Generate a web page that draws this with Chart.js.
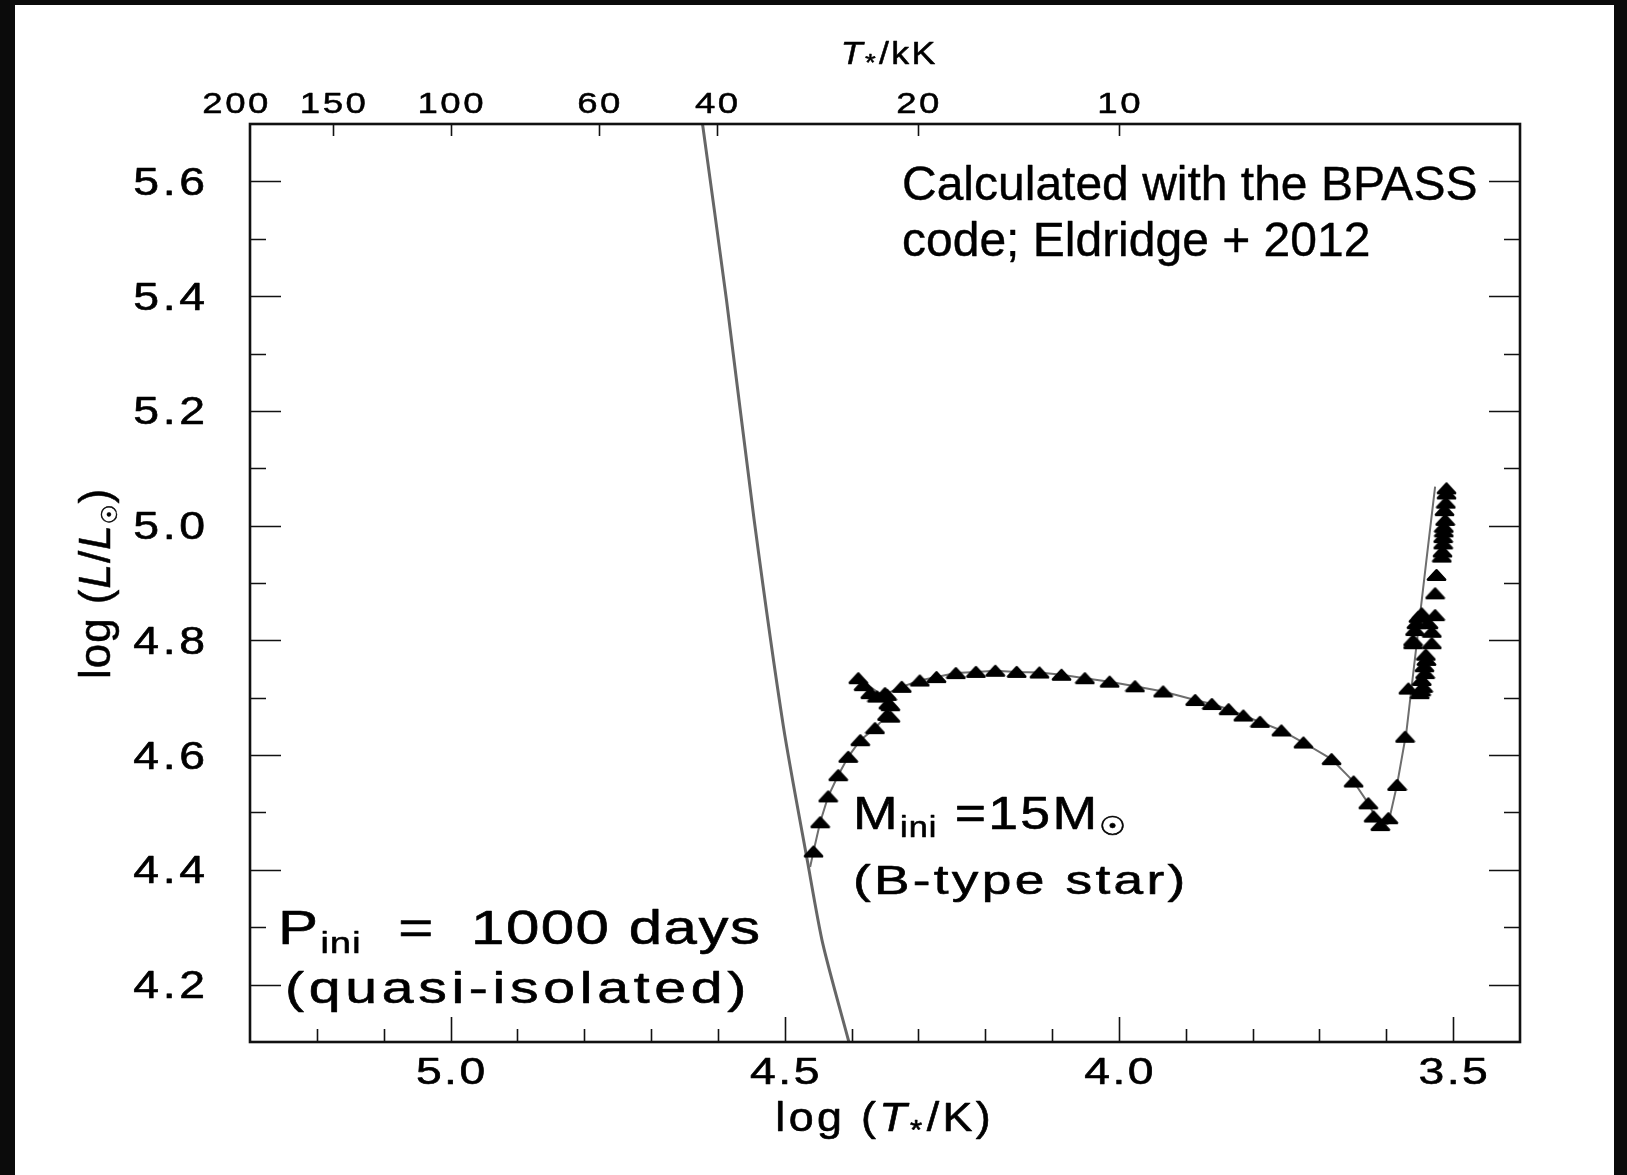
<!DOCTYPE html>
<html>
<head>
<meta charset="utf-8">
<script src="https://cdn.jsdelivr.net/npm/chart.js@4.4.1/dist/chart.umd.min.js"></script>
<style>
  html, body { margin: 0; padding: 0; background: #0b0b0b; overflow: hidden; }
  canvas { display: block; }
</style>
</head>
<body>
<canvas id="hrd" width="1627" height="1175"></canvas>
<script>
// ZAMS-like grey line (log T, log L)
const zamsLogT = [4.623, 4.587, 4.546, 4.502, 4.466, 4.443, 4.404];
const zamsLogL = [5.700, 5.392, 5.012, 4.650, 4.415, 4.271, 4.100];

// grey evolutionary track line
const trackLogT = [4.462, 4.457, 4.447, 4.435, 4.420, 4.405, 4.387, 4.365, 4.347, 4.343, 4.355, 4.390, 4.372, 4.350,
  4.325, 4.298, 4.273, 4.244, 4.214, 4.185, 4.153, 4.119, 4.086, 4.051, 4.014, 3.976, 3.934, 3.886, 3.861, 3.836,
  3.814, 3.789, 3.757, 3.724, 3.682, 3.649, 3.627, 3.612, 3.605, 3.597, 3.584, 3.570, 3.555, 3.540, 3.527];
const trackLogL = [4.405, 4.432, 4.483, 4.528, 4.565, 4.597, 4.626, 4.647, 4.670, 4.690, 4.705, 4.734, 4.712, 4.706,
  4.719, 4.730, 4.736, 4.743, 4.745, 4.747, 4.745, 4.744, 4.740, 4.734, 4.728, 4.720, 4.711, 4.696, 4.689, 4.680,
  4.669, 4.658, 4.643, 4.622, 4.593, 4.554, 4.516, 4.482, 4.476, 4.481, 4.548, 4.640, 4.790, 4.940, 5.068];

// model time steps (triangles)
const stepLogT = [4.457, 4.447, 4.435, 4.420, 4.405, 4.387, 4.365, 4.347, 4.342, 4.345, 4.342, 4.347, 4.350, 4.362,
  4.372, 4.382, 4.390, 4.325, 4.298, 4.273, 4.244, 4.214, 4.185, 4.153, 4.119, 4.086, 4.051, 4.014, 3.976, 3.934,
  3.886, 3.861, 3.836, 3.814, 3.789, 3.757, 3.724, 3.682, 3.649, 3.627, 3.619, 3.609, 3.597, 3.584, 3.572, 3.567,
  3.560, 3.557, 3.552, 3.547, 3.537, 3.532, 3.532, 3.540, 3.542, 3.545, 3.550, 3.547, 3.543, 3.548, 3.541, 3.555,
  3.560, 3.527, 3.527, 3.525, 3.517, 3.516, 3.515, 3.515, 3.514, 3.514, 3.512, 3.513, 3.511, 3.510, 3.510];
const stepLogL = [4.432, 4.483, 4.528, 4.565, 4.597, 4.626, 4.647, 4.670, 4.667, 4.690, 4.687, 4.705, 4.708, 4.702,
  4.708, 4.722, 4.734, 4.719, 4.730, 4.736, 4.743, 4.745, 4.747, 4.745, 4.744, 4.740, 4.734, 4.728, 4.720, 4.711,
  4.696, 4.689, 4.680, 4.669, 4.658, 4.643, 4.622, 4.593, 4.554, 4.516, 4.493, 4.478, 4.490, 4.548, 4.632, 4.716,
  4.795, 4.818, 4.841, 4.847, 4.830, 4.815, 4.795, 4.766, 4.743, 4.719, 4.708, 4.731, 4.755, 4.713, 4.775, 4.830,
  4.800, 4.844, 4.882, 4.914, 4.946, 4.955, 4.969, 4.980, 4.990, 4.998, 5.010, 5.027, 5.040, 5.056, 5.065];

// axes
const xTickValues = [5.2, 5.1, 5.0, 4.9, 4.8, 4.7, 4.6, 4.5, 4.4, 4.3, 4.2, 4.1, 4.0, 3.9, 3.8, 3.7, 3.6, 3.5];
const xLabelValues = [5.0, 4.5, 4.0, 3.5];
const yTickValues = [4.2, 4.3, 4.4, 4.5, 4.6, 4.7, 4.8, 4.9, 5.0, 5.1, 5.2, 5.3, 5.4, 5.5, 5.6];
const yLabelValues = [4.2, 4.4, 4.6, 4.8, 5.0, 5.2, 5.4, 5.6];
const topTempKK = [200, 150, 100, 60, 40, 20, 10];

const SANS = "'Liberation Sans', Arial, sans-serif";
const SYM = "'DejaVu Sans', sans-serif";

function toPoints(xs, ys) {
  return xs.map((x, i) => ({ x: x, y: ys[i] }));
}

// filled, rounded, rather flat triangle marker
function makeTriangle() {
  const c = document.createElement('canvas');
  c.width = 21;
  c.height = 14;
  const g = c.getContext('2d');
  g.fillStyle = '#000';
  g.strokeStyle = '#000';
  g.lineWidth = 2.8;
  g.lineJoin = 'round';
  g.beginPath();
  g.moveTo(10.5, 2.4);
  g.lineTo(19, 11.6);
  g.lineTo(2, 11.6);
  g.closePath();
  g.fill();
  g.stroke();
  return c;
}

function setFont(ctx, r) {
  ctx.font = (r.it ? 'italic ' : '') + r.size + 'px ' + (r.fam || SANS);
  ctx.letterSpacing = (r.ls || 0) + 'px';
}

// draws a row of text runs (for subscripts / italics), stretched by sx
function drawRuns(ctx, list, x, y, opt) {
  opt = opt || {};
  ctx.save();
  ctx.translate(x, y);
  if (opt.rotate) ctx.rotate(opt.rotate);
  ctx.scale(opt.sx || 1, 1);
  ctx.fillStyle = '#000';
  ctx.strokeStyle = '#000';
  ctx.lineWidth = opt.bold || 0;
  ctx.lineJoin = 'round';
  ctx.textAlign = 'left';
  ctx.textBaseline = 'alphabetic';
  const widths = [];
  let total = 0;
  list.forEach(r => {
    setFont(ctx, r);
    const w = ctx.measureText(r.t).width;
    widths.push(w);
    total += w;
  });
  const visible = total - (list[list.length - 1].ls || 0);
  let cx = 0;
  if (opt.align === 'center') cx = -visible / 2;
  if (opt.align === 'right') cx = -visible;
  list.forEach((r, i) => {
    setFont(ctx, r);
    ctx.fillText(r.t, cx, r.dy || 0);
    if (opt.bold) ctx.strokeText(r.t, cx, r.dy || 0);
    cx += widths[i];
  });
  ctx.restore();
}

const framePlugin = {
  id: 'framePlugin',
  beforeDraw(chart) {
    const ctx = chart.ctx;
    ctx.save();
    ctx.fillStyle = '#0b0b0b';
    ctx.fillRect(0, 0, chart.width, chart.height);
    ctx.fillStyle = '#ffffff';
    ctx.fillRect(15, 5, 1599, chart.height - 5);
    ctx.restore();
  },
  afterDraw(chart) {
    const ctx = chart.ctx;
    const a = chart.chartArea;
    const xs = chart.scales.x;
    const ys = chart.scales.y;

    ctx.save();
    ctx.strokeStyle = '#111';
    ctx.lineWidth = 1.6;
    ctx.beginPath();
    // bottom ticks
    xTickValues.forEach(v => {
      const px = Math.round(xs.getPixelForValue(v)) + 0.5;
      const len = xLabelValues.includes(v) ? 25 : 13;
      ctx.moveTo(px, a.bottom);
      ctx.lineTo(px, a.bottom - len);
    });
    // top ticks (temperature in kK)
    topTempKK.forEach(t => {
      const px = Math.round(xs.getPixelForValue(Math.log10(t * 1000))) + 0.5;
      if (px > a.left + 2) {
        ctx.moveTo(px, a.top);
        ctx.lineTo(px, a.top + 12);
      }
    });
    // left / right ticks
    yTickValues.forEach(v => {
      const py = Math.round(ys.getPixelForValue(v)) + 0.5;
      const len = yLabelValues.includes(v) ? 31 : 16;
      ctx.moveTo(a.left, py);
      ctx.lineTo(a.left + len, py);
      ctx.moveTo(a.right, py);
      ctx.lineTo(a.right - len, py);
    });
    ctx.stroke();

    ctx.lineWidth = 2.6;
    ctx.strokeRect(a.left, a.top, a.right - a.left, a.bottom - a.top);
    ctx.restore();

    // tick labels
    yLabelValues.forEach(v => {
      drawRuns(ctx, [{ t: v.toFixed(1), size: 38, ls: 3 }], 205, ys.getPixelForValue(v) + 13.6, { sx: 1.22, align: 'right', bold: 0.6 });
    });
    xLabelValues.forEach(v => {
      drawRuns(ctx, [{ t: v.toFixed(1), size: 37, ls: 2 }], xs.getPixelForValue(v), 1084, { sx: 1.25, align: 'center', bold: 0.6 });
    });
    topTempKK.forEach(t => {
      let px = xs.getPixelForValue(Math.log10(t * 1000));
      if (px <= a.left + 2) px -= 14; // edge label sits just outside the frame
      drawRuns(ctx, [{ t: String(t), size: 30, ls: 2 }], px, 113, { sx: 1.22, align: 'center', bold: 0.5 });
    });

    // axis titles
    drawRuns(ctx, [
      { t: 'T', it: true, size: 31, ls: 2 },
      { t: '*', size: 24, dy: 7, ls: 3 },
      { t: '/kK', size: 31, ls: 2 }
    ], 888, 64, { sx: 1.15, align: 'center', bold: 0.5 });
    drawRuns(ctx, [
      { t: 'log (', size: 40, ls: 3 },
      { t: 'T', it: true, size: 40, ls: 3 },
      { t: '*', size: 28, dy: 8, ls: 4 },
      { t: '/K)', size: 40, ls: 3 }
    ], 883, 1131, { sx: 1.12, align: 'center', bold: 0.6 });
    drawRuns(ctx, [
      { t: 'log (', size: 44, ls: 1 },
      { t: 'L', it: true, size: 44, ls: 1 },
      { t: '/', size: 44, ls: 1 },
      { t: 'L', it: true, size: 44, ls: 1 },
      { t: '\u2609', size: 22, fam: SYM, dy: 7, ls: 1 },
      { t: ')', size: 44 }
    ], 110, 584, { sx: 1.0, align: 'center', rotate: -Math.PI / 2, bold: 0.5 });

    // annotations
    drawRuns(ctx, [{ t: 'Calculated with the BPASS', size: 48 }], 902, 200, { bold: 0.4 });
    drawRuns(ctx, [{ t: 'code; Eldridge + 2012', size: 48 }], 902, 256, { bold: 0.4 });

    drawRuns(ctx, [
      { t: 'M', size: 47, ls: 2 },
      { t: 'ini', size: 30, dy: 8, ls: 1 },
      { t: ' =15M', size: 47, ls: 2 },
      { t: '\u2609', size: 26, fam: SYM, dy: 6 }
    ], 853, 829, { sx: 1.14, bold: 0.6 });
    drawRuns(ctx, [{ t: '(B-type star)', size: 41, ls: 2.5 }], 853, 894, { sx: 1.3, bold: 0.6 });

    drawRuns(ctx, [
      { t: 'P', size: 48, ls: 2 },
      { t: 'ini', size: 30, dy: 9, ls: 1 },
      { t: '  =  1000 days', size: 48, ls: 1.2 }
    ], 278, 944, { sx: 1.25, bold: 0.6 });
    drawRuns(ctx, [{ t: '(quasi-isolated)', size: 44, ls: 3.6 }], 285, 1003, { sx: 1.3, bold: 0.6 });
  }
};

const triImg = makeTriangle();

new Chart(document.getElementById('hrd'), {
  type: 'scatter',
  data: {
    datasets: [
      {
        label: 'ZAMS',
        data: toPoints(zamsLogT, zamsLogL),
        showLine: true,
        borderColor: '#666666',
        borderWidth: 3,
        pointRadius: 0,
        tension: 0.25,
        order: 3
      },
      {
        label: 'track',
        data: toPoints(trackLogT, trackLogL),
        showLine: true,
        borderColor: '#6e6e6e',
        borderWidth: 2,
        pointRadius: 0,
        tension: 0,
        order: 2
      },
      {
        label: 'models',
        data: toPoints(stepLogT, stepLogL),
        showLine: false,
        pointStyle: triImg,
        pointRadius: 9,
        order: 1
      }
    ]
  },
  options: {
    responsive: false,
    animation: false,
    devicePixelRatio: 1,
    layout: { padding: { left: 250, top: 124, right: 107, bottom: 133 } },
    scales: {
      x: { type: 'linear', min: 3.4, max: 5.3, reverse: true, display: false },
      y: { type: 'linear', min: 4.1, max: 5.7, display: false }
    },
    plugins: {
      legend: { display: false },
      tooltip: { enabled: false }
    }
  },
  plugins: [framePlugin]
});
</script>
</body>
</html>
